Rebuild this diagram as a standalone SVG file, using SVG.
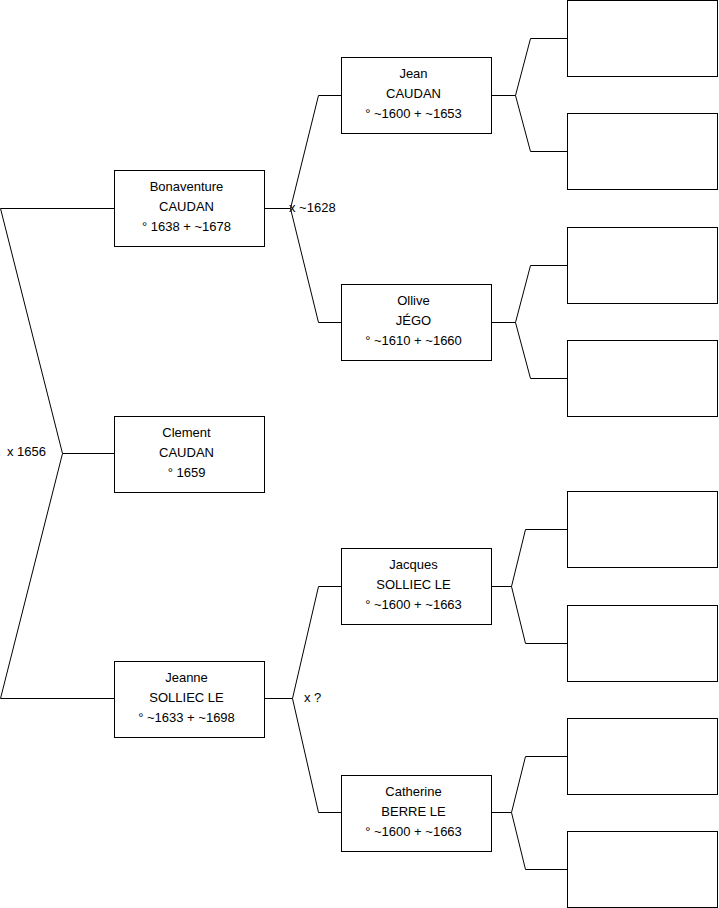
<svg xmlns="http://www.w3.org/2000/svg" width="719" height="908" viewBox="0 0 719 908">
<style>
.box{fill:#fff;stroke:#000;stroke-width:1}
.ln{fill:none;stroke:#000;stroke-width:1}
text{font-family:"Liberation Sans",Arial,sans-serif;font-size:13px;fill:#000}
.c{text-anchor:middle}
</style>
<rect width="719" height="908" fill="#fff"/>
<g id="connectors">
<path class="ln" d="M114 208.5 H0.5 L62.5 453.5 L0.5 698.5 H114 M62.5 453.5 H114"/>
<path class="ln" d="M265 208.5 H290.5 L318.5 95.5 H341 M290.5 208.5 L318.5 322.5 H341"/>
<path class="ln" d="M265 698.5 H292.5 L318.5 586.5 H341 M292.5 698.5 L318.5 812.5 H341"/>
<path class="ln" d="M492 95.5 H515.5 L530.5 38.5 H567 M515.5 95.5 L530.5 151.5 H567"/>
<path class="ln" d="M492 322.5 H515.5 L530.5 265.5 H567 M515.5 322.5 L530.5 378.5 H567"/>
<path class="ln" d="M492 586.5 H511.5 L525.5 529.5 H567 M511.5 586.5 L525.5 643.5 H567"/>
<path class="ln" d="M492 812.5 H511.5 L525.5 756.5 H567 M511.5 812.5 L525.5 869.5 H567"/>
<text x="7" y="456">x 1656</text>
<text x="289" y="212">x ~1628</text>
<text x="304" y="702">x ?</text>
</g>
<g id="bonaventure"><rect class="box" x="114.5" y="170.5" width="150" height="76"/>
<text class="c" x="186.5" y="191">Bonaventure</text><text class="c" x="186.5" y="211">CAUDAN</text><text class="c" x="186.5" y="231">° 1638 + ~1678</text></g>
<g id="clement"><rect class="box" x="114.5" y="416.5" width="150" height="76"/>
<text class="c" x="186.5" y="437">Clement</text><text class="c" x="186.5" y="457">CAUDAN</text><text class="c" x="186.5" y="477">° 1659</text></g>
<g id="jeanne"><rect class="box" x="114.5" y="661.5" width="150" height="76"/>
<text class="c" x="186.5" y="682">Jeanne</text><text class="c" x="186.5" y="702">SOLLIEC LE</text><text class="c" x="186.5" y="722">° ~1633 + ~1698</text></g>
<g id="jean"><rect class="box" x="341.5" y="57.5" width="150" height="76"/>
<text class="c" x="413.5" y="78">Jean</text><text class="c" x="413.5" y="98">CAUDAN</text><text class="c" x="413.5" y="118">° ~1600 + ~1653</text></g>
<g id="ollive"><rect class="box" x="341.5" y="284.5" width="150" height="76"/>
<text class="c" x="413.5" y="305">Ollive</text><text class="c" x="413.5" y="325">JÉGO</text><text class="c" x="413.5" y="345">° ~1610 + ~1660</text></g>
<g id="jacques"><rect class="box" x="341.5" y="548.5" width="150" height="76"/>
<text class="c" x="413.5" y="569">Jacques</text><text class="c" x="413.5" y="589">SOLLIEC LE</text><text class="c" x="413.5" y="609">° ~1600 + ~1663</text></g>
<g id="catherine"><rect class="box" x="341.5" y="775.5" width="150" height="76"/>
<text class="c" x="413.5" y="796">Catherine</text><text class="c" x="413.5" y="816">BERRE LE</text><text class="c" x="413.5" y="836">° ~1600 + ~1663</text></g>
<g id="p1"><rect class="box" x="567.5" y="0.5" width="150" height="76"/></g>
<g id="p2"><rect class="box" x="567.5" y="113.5" width="150" height="76"/></g>
<g id="p3"><rect class="box" x="567.5" y="227.5" width="150" height="76"/></g>
<g id="p4"><rect class="box" x="567.5" y="340.5" width="150" height="76"/></g>
<g id="p5"><rect class="box" x="567.5" y="491.5" width="150" height="76"/></g>
<g id="p6"><rect class="box" x="567.5" y="605.5" width="150" height="76"/></g>
<g id="p7"><rect class="box" x="567.5" y="718.5" width="150" height="76"/></g>
<g id="p8"><rect class="box" x="567.5" y="831.5" width="150" height="76"/></g>
</svg>
